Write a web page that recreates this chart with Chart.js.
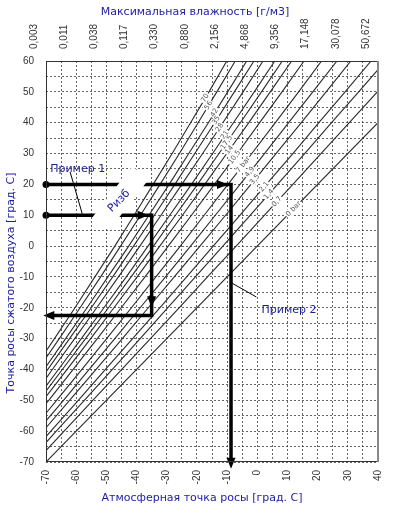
<!DOCTYPE html>
<html>
<head>
<meta charset="utf-8">
<script src="https://cdn.jsdelivr.net/npm/chart.js@4.4.1/dist/chart.umd.min.js"></script>
<style>
  html, body { margin: 0; padding: 0; background: #fff; }
  #chart { display: block; }
</style>
</head>
<body>
<canvas id="chart" width="398" height="513"></canvas>
<script>
// ---- data ----
const X_MAJOR = [-70, -60, -50, -40, -30, -20, -10, 0, 10, 20, 30, 40];
const HUMIDITY = ['0,003', '0,011', '0,038', '0,117', '0,330', '0,880', '2,156', '4,868', '9,356', '17,148', '30,078', '50,672'];

// pressure lines, [atm dew point, pressure dew point]
const P70 = [[-70,-34.1],[-67.2,-30],[-60.4,-20],[-53.8,-10],[-47.2,0],[-40.8,10],[-34.5,20],[-28.2,30],[-22.1,40],[-16.0,50],[-10.1,60]];
const P56 = [[-70,-36.3],[-65.6,-30],[-58.7,-20],[-51.9,-10],[-45.3,0],[-38.7,10],[-32.2,20],[-25.8,30],[-19.6,40],[-13.4,50],[-7.3,60]];
const P42 = [[-70,-39.1],[-63.5,-30],[-56.4,-20],[-49.5,-10],[-42.6,0],[-35.9,10],[-29.2,20],[-22.7,30],[-16.2,40],[-9.8,50],[-3.5,60]];
const P35 = [[-70,-40.8],[-62.2,-30],[-55.0,-20],[-47.9,-10],[-41.0,0],[-34.1,10],[-27.3,20],[-20.7,30],[-14.1,40],[-7.6,50],[-1.1,60]];
const P28 = [[-70,-42.9],[-67.9,-40],[-60.5,-30],[-53.2,-20],[-46.0,-10],[-38.9,0],[-31.9,10],[-25.0,20],[-18.1,30],[-11.4,40],[-4.7,50],[1.9,60]];
const P21 = [[-70,-45.4],[-65.9,-40],[-58.3,-30],[-50.8,-20],[-43.4,-10],[-36.2,0],[-29.0,10],[-21.8,20],[-14.8,30],[-7.9,40],[-1.0,50],[5.8,60]];
const P17 = [[-70,-47.0],[-64.6,-40],[-56.9,-30],[-49.3,-20],[-41.8,-10],[-34.4,0],[-27.1,10],[-19.8,20],[-12.7,30],[-5.6,40],[1.4,50],[8.3,60]];
const P14 = [[-70,-48.8],[-63.0,-40],[-55.2,-30],[-47.5,-20],[-39.8,-10],[-32.3,0],[-24.8,10],[-17.4,20],[-10.1,30],[-2.8,40],[4.3,50],[11.4,60]];
const P10 = [[-70,-51.1],[-69.1,-50],[-61.0,-40],[-53.0,-30],[-45.1,-20],[-37.2,-10],[-29.5,0],[-21.8,10],[-14.2,20],[-6.6,30],[0.8,40],[8.2,50],[15.5,60]];
const P7  = [[-70,-54.2],[-66.5,-50],[-58.1,-40],[-49.9,-30],[-41.7,-20],[-33.6,-10],[-25.5,0],[-17.6,10],[-9.7,20],[-1.8,30],[6.0,40],[13.7,50],[21.3,60]];
const P5  = [[-70,-56.7],[-64.2,-50],[-55.7,-40],[-47.2,-30],[-38.8,-20],[-30.4,-10],[-22.1,0],[-13.9,10],[-5.7,20],[2.4,30],[10.4,40],[18.4,50],[26.4,60]];
const P3  = [[-70,-58.9],[-62.2,-50],[-53.4,-40],[-44.7,-30],[-36.1,-20],[-27.5,-10],[-19.0,0],[-10.5,10],[-2.1,20],[6.2,30],[14.6,40],[22.8,50],[31.0,60]];
const P2  = [[-70,-61.8],[-68.4,-60],[-59.3,-50],[-50.3,-40],[-41.3,-30],[-32.3,-20],[-23.4,-10],[-14.6,0],[-5.7,10],[3.0,20],[11.8,30],[20.4,40],[29.1,50],[37.7,60]];
const P1  = [[-70,-63.7],[-66.6,-60],[-57.3,-50],[-48.0,-40],[-38.8,-30],[-29.7,-20],[-20.5,-10],[-11.4,0],[-2.3,10],[6.7,20],[15.7,30],[24.6,40],[33.6,50],[40,57.2]];
const P07 = [[-70,-66.3],[-64.0,-60],[-54.5,-50],[-44.9,-40],[-35.4,-30],[-25.9,-20],[-16.5,-10],[-7.0,0],[2.4,10],[11.8,20],[21.1,30],[30.5,40],[40,50.2]];
const P0  = [[-70,-70],[40,40]];

const PRESSURE_LINES = [P70, P56, P42, P35, P28, P21, P17, P14, P10, P7, P5, P3, P2, P1, P07, P0];
const PRESSURE_LABELS = ['70', '56', '42', '35', '28', '21', '17,5', '14', '10,5', '7 bar', '4,9', '3,5', '2,1', '1,4', '0,7', '0 bar'];
const LABEL_AT_Y = [48, 45.6, 43.2, 40.8, 38.4, 36, 33.6, 31.2, 28.8, 26.4, 24, 21.6, 19.2, 16.8, 14.4, 12];

// examples
const EX1_PATH = [[-70,10],[-35,10],[-35,-22.5],[-69,-22.5]];
const EX2_PATH = [[-70,20],[-8.7,20],[-8.7,-70]];
const EX1_POINTER = [[-62,24],[-58,10.5]];
const EX2_POINTER = [[-8.4,-12],[-0.3,-16.5]];
// arrow tips: x, y, direction
const ARROWS = [[-36,10,'r'],[-35,-19.8,'d'],[-70.9,-22.5,'l'],[-9.7,20,'r'],[-8.7,-72.2,'d']];

const BLUE = '#1c1c9c';
const TXT = '11px "DejaVu Sans", Verdana, sans-serif';

Chart.defaults.font.family = '"Liberation Sans", Arial, sans-serif';
Chart.defaults.font.size = 10;
Chart.defaults.color = '#333';

const toXY = pts => pts.map(([x, y]) => ({ x, y }));

const datasets = [
  { data: toXY(EX1_PATH), borderColor: '#000', borderWidth: 3.5, clip: false,
    pointRadius: c => c.dataIndex === 0 ? 3.5 : 0, pointBackgroundColor: '#000', pointBorderWidth: 0 },
  { data: toXY(EX2_PATH), borderColor: '#000', borderWidth: 3.5, clip: false,
    pointRadius: c => c.dataIndex === 0 ? 3.5 : 0, pointBackgroundColor: '#000', pointBorderWidth: 0 },
];
PRESSURE_LINES.forEach(p => datasets.push({ data: toXY(p), borderColor: '#2a2a2a', borderWidth: 1.1, pointRadius: 0 }));

const gridOpts = { color: 'rgba(50,50,50,0.75)', lineWidth: 1, drawTicks: false };

const overlay = {
  id: 'overlay',
  afterDatasetsDraw(chart) {
    const { ctx, scales: { x, y } } = chart;
    const px = v => x.getPixelForValue(v), py = v => y.getPixelForValue(v);

    // white patch behind "Ризб"
    ctx.save();
    ctx.translate(px(-45.2), py(15.6));
    ctx.rotate(-52 * Math.PI / 180);
    ctx.fillStyle = '#fff';
    ctx.fillRect(-32, -10.5, 64, 21);
    ctx.restore();

    // labels on pressure lines
    ctx.save();
    ctx.font = '7px "DejaVu Sans", sans-serif';
    ctx.textAlign = 'center';
    ctx.textBaseline = 'middle';
    PRESSURE_LINES.forEach((pts, i) => {
      const ly = LABEL_AT_Y[i];
      let k = 0;
      while (k < pts.length - 2 && pts[k + 1][1] < ly) k++;
      const [x1, y1] = pts[k], [x2, y2] = pts[k + 1];
      const t = (ly - y1) / (y2 - y1);
      const lx = x1 + t * (x2 - x1);
      const ang = Math.atan2(py(y2) - py(y1), px(x2) - px(x1));
      ctx.save();
      ctx.translate(px(lx), py(ly));
      ctx.rotate(ang);
      const w = ctx.measureText(PRESSURE_LABELS[i]).width;
      ctx.fillStyle = '#fff';
      ctx.fillRect(-w / 2 - 1, -4, w + 2, 8);
      ctx.fillStyle = '#555';
      ctx.fillText(PRESSURE_LABELS[i], 0, 0);
      ctx.restore();
    });
    ctx.restore();

    // pointer lines
    ctx.save();
    ctx.strokeStyle = '#000';
    ctx.lineWidth = 1;
    [EX1_POINTER, EX2_POINTER].forEach(p => {
      ctx.beginPath();
      ctx.moveTo(px(p[0][0]), py(p[0][1]));
      ctx.lineTo(px(p[1][0]), py(p[1][1]));
      ctx.stroke();
    });
    ctx.restore();

    // arrowheads
    ctx.save();
    ctx.fillStyle = '#000';
    const rot = { r: 0, d: Math.PI / 2, l: Math.PI, u: -Math.PI / 2 };
    ARROWS.forEach(([ax, ay, dir]) => {
      ctx.save();
      ctx.translate(px(ax), py(ay));
      ctx.rotate(rot[dir]);
      ctx.beginPath();
      ctx.moveTo(0, 0);
      ctx.lineTo(-11, -4.5);
      ctx.lineTo(-11, 4.5);
      ctx.closePath();
      ctx.fill();
      ctx.restore();
    });
    ctx.restore();

    // example texts
    ctx.save();
    ctx.font = TXT;
    ctx.fillStyle = BLUE;
    ctx.textAlign = 'center';
    ctx.textBaseline = 'middle';
    ctx.fillText('Пример 1', px(-59.5), py(24.9));
    ctx.fillText('Пример 2', px(10.5), py(-20.7));
    ctx.save();
    ctx.translate(px(-45.8), py(14.6));
    ctx.rotate(-45 * Math.PI / 180);
    ctx.fillText('Ризб', 0, 0);
    ctx.restore();
    ctx.restore();
  },
  afterDraw(chart) {
    const { ctx, chartArea: a } = chart;
    ctx.save();
    // frame
    ctx.strokeStyle = '#333';
    ctx.lineWidth = 1;
    ctx.beginPath();
    ctx.moveTo(a.right, a.top + 0.5);
    ctx.lineTo(a.left + 0.5, a.top + 0.5);
    ctx.lineTo(a.left + 0.5, a.bottom - 0.5);
    ctx.lineTo(a.right, a.bottom - 0.5);
    ctx.stroke();
    ctx.strokeStyle = '#888';
    ctx.lineWidth = 2;
    ctx.beginPath();
    ctx.moveTo(a.right, a.top);
    ctx.lineTo(a.right, a.bottom);
    ctx.stroke();

    // axis titles
    ctx.font = TXT;
    ctx.fillStyle = BLUE;
    ctx.textAlign = 'center';
    ctx.textBaseline = 'middle';
    ctx.fillText('Максимальная влажность [г/м3]', a.left + 149, a.top - 49);
    ctx.fillText('Атмосферная точка росы [град. С]', a.left + 156, a.bottom + 36);
    ctx.translate(a.left - 35, a.top + 222);
    ctx.rotate(-Math.PI / 2);
    ctx.fillText('Точка росы сжатого воздуха [град. С]', 0, 0);
    ctx.restore();
  }
};

new Chart(document.getElementById('chart'), {
  type: 'scatter',
  data: { datasets: datasets.map(d => Object.assign({ showLine: true, tension: 0, fill: false }, d)) },
  options: {
    responsive: false,
    animation: false,
    events: [],
    layout: { padding: { left: 0, right: 11, top: 0, bottom: 0 } },
    plugins: { legend: { display: false }, tooltip: { enabled: false } },
    scales: {
      x: {
        type: 'linear', position: 'bottom', min: -70, max: 40,
        afterFit: s => { s.height = 51; },
        grid: gridOpts,
        border: { display: false, dash: [2, 2] },
        ticks: { stepSize: 5, autoSkip: false, minRotation: 90, maxRotation: 90, padding: 8,
          callback: v => (v % 10 === 0 ? String(v) : '') }
      },
      x2: {
        type: 'linear', position: 'top', min: -70, max: 40,
        afterFit: s => { s.height = 61; },
        afterBuildTicks: s => { s.ticks = X_MAJOR.map(v => ({ value: v })); },
        grid: { display: false, drawTicks: false },
        border: { display: false },
        ticks: { autoSkip: false, minRotation: 90, maxRotation: 90, padding: 12,
          callback: (v, i) => HUMIDITY[i] }
      },
      y: {
        type: 'linear', min: -70, max: 60,
        afterFit: s => { s.width = 46; },
        grid: gridOpts,
        border: { display: false, dash: [2, 2] },
        ticks: { stepSize: 5, autoSkip: false, padding: 12,
          callback: v => (v % 10 === 0 ? String(v) : '') }
      }
    }
  },
  plugins: [overlay]
});
</script>
</body>
</html>
